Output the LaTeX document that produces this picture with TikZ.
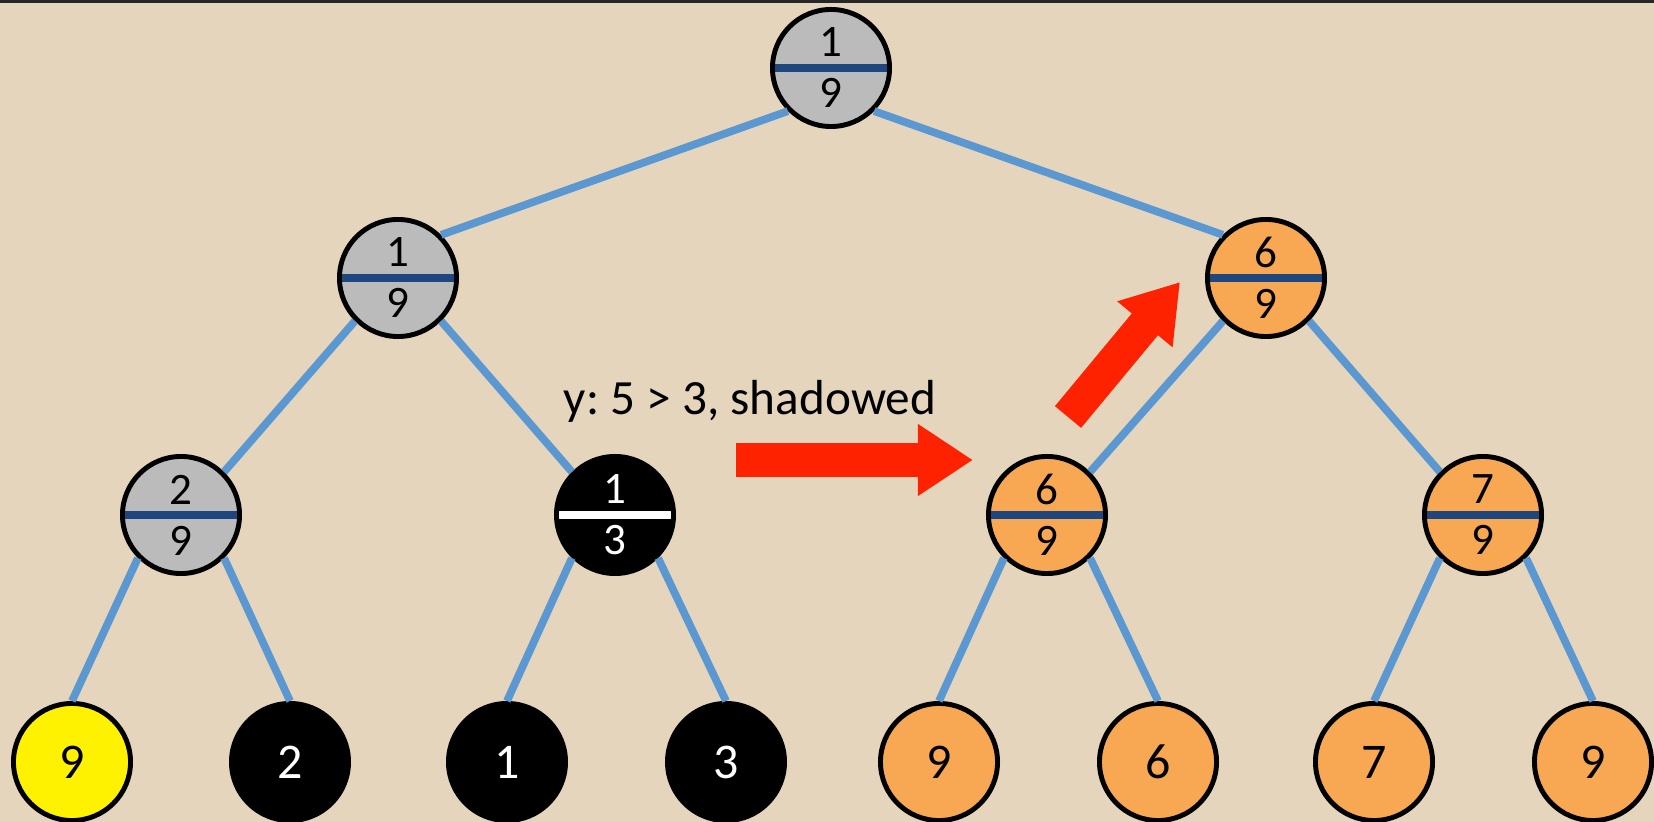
\documentclass[tikz,border=0pt]{standalone}
\usepackage{fontspec}
\setmainfont{Carlito}
\usetikzlibrary{arrows.meta}
\definecolor{bg}{HTML}{E4D5BC}
\definecolor{nodegray}{HTML}{BBBBBB}
\definecolor{nodeorange}{HTML}{F8A753}
\definecolor{edgeblue}{HTML}{5B97D1}
\definecolor{divblue}{HTML}{1F477F}
\definecolor{arrowred}{HTML}{FF2200}
\tikzset{
  frac/.style={circle,draw,line width=1.4pt,minimum size=1.17cm,inner sep=0pt,
    align=center,font=\fontsize{12.8}{14.5}\selectfont,
    path picture={\draw[divider] (path picture bounding box.west) -- (path picture bounding box.east);}},
  divider/.style={draw=divblue,line width=2pt},
  leaf/.style={circle,draw,line width=1.4pt,minimum size=1.17cm,inner sep=0pt,
    font=\fontsize{14.2}{17}\selectfont},
  edge/.style={draw=edgeblue,line width=2.2pt},
  bigarrow/.style={draw=arrowred,line width=0.34cm,-{Triangle[width=0.68cm,length=0.55cm]}}
}

\begin{document}
\begin{tikzpicture}[x=0.01cm,y=-0.01cm]
\useasboundingbox (0,0) rectangle (1654,822);
\fill[bg] (0,0) rectangle (1654,822);
\fill[black!85] (0,0) rectangle (1654,3);
%
\node[frac,fill=nodegray] (r) at (831,68) {1\\9};
\node[frac,fill=nodegray] (a) at (398,278) {1\\9};
\node[frac,fill=nodeorange] (b) at (1266,278) {6\\9};
\node[frac,fill=nodegray] (c) at (181,515) {2\\9};
\node[frac,fill=black,text=white,divider/.style={draw=white,line width=2pt}] (d) at (615,515) {1\\3};
\node[frac,fill=nodeorange] (e) at (1047,515) {6\\9};
\node[frac,fill=nodeorange] (f) at (1483,515) {7\\9};
%
\node[leaf,fill=yellow] (l1) at (72,762) {9};
\node[leaf,fill=black,text=white] (l2) at (290,762) {2};
\node[leaf,fill=black,text=white] (l3) at (507,762) {1};
\node[leaf,fill=black,text=white] (l4) at (726,762) {3};
\node[leaf,fill=nodeorange] (l5) at (939,762) {9};
\node[leaf,fill=nodeorange] (l6) at (1158,762) {6};
\node[leaf,fill=nodeorange] (l7) at (1374,762) {7};
\node[leaf,fill=nodeorange] (l8) at (1593,762) {9};
%
\draw[edge] (r.south west) -- (a.north east); \draw[edge] (r.south east) -- (b.north west);
\draw[edge] (a.south west) -- (c.north east); \draw[edge] (a.south east) -- (d.north west);
\draw[edge] (b.south west) -- (e.north east); \draw[edge] (b.south east) -- (f.north west);
\draw[edge] (c.south west) -- (l1.north); \draw[edge] (c.south east) -- (l2.north);
\draw[edge] (d.south west) -- (l3.north); \draw[edge] (d.south east) -- (l4.north);
\draw[edge] (e.south west) -- (l5.north); \draw[edge] (e.south east) -- (l6.north);
\draw[edge] (f.south west) -- (l7.north); \draw[edge] (f.south east) -- (l8.north);
%
\node[font=\fontsize{14}{17}\selectfont\frenchspacing,anchor=base] (msg) at (750,415) {y: 5 > 3, shadowed};
\coordinate (h1) at (736,460); \coordinate (h2) at (973,460);
\coordinate (u1) at (1068,417); \coordinate (u2) at (1180,282);
\draw[bigarrow] (h1) -- (h2);
\draw[bigarrow] (u1) -- (u2);
\end{tikzpicture}
\end{document}
